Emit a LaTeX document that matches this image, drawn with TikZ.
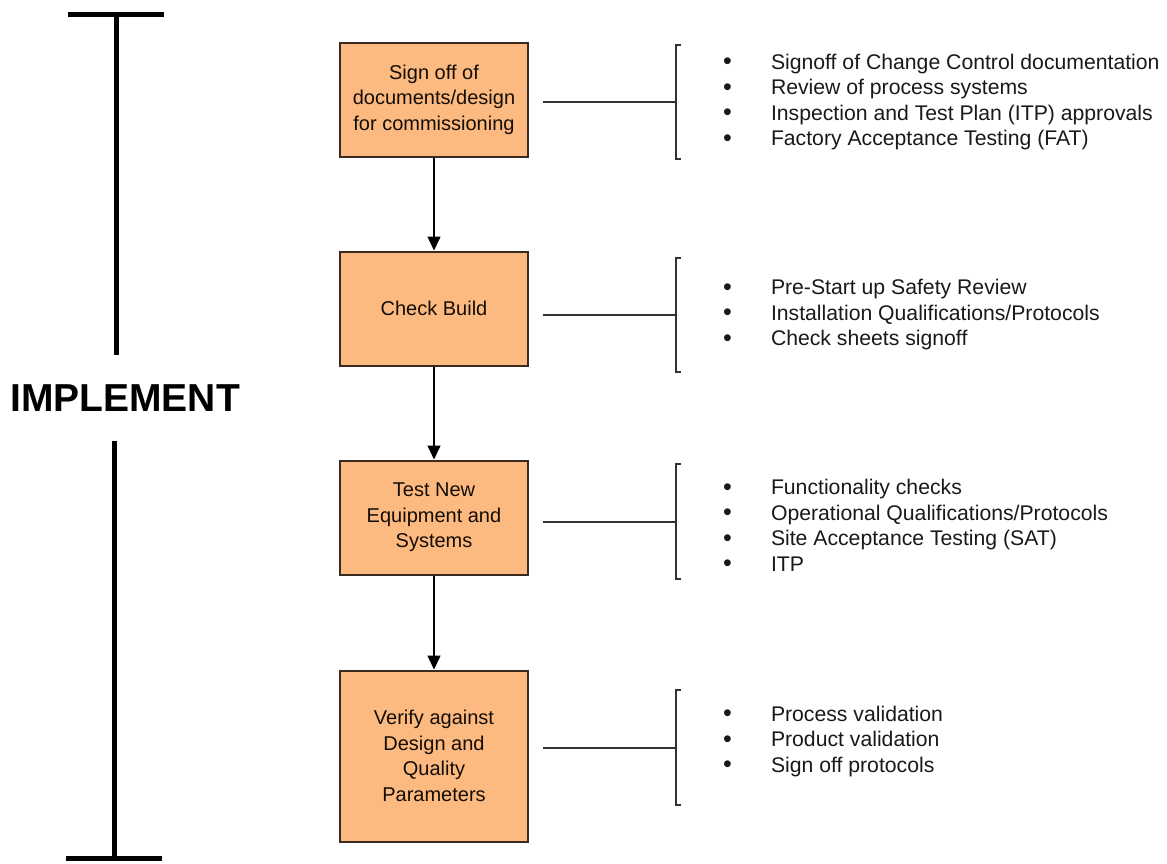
\documentclass[tikz,border=0pt]{standalone}
\usepackage{fontspec}
\setmainfont{Liberation Sans}
\usepackage{tikz}
\usetikzlibrary{positioning,arrows.meta}
\definecolor{BOX_COLOR}{HTML}{FDBA80}
\definecolor{EDGE_COLOR}{HTML}{3A2A20}
\tikzstyle{step_box}=[rectangle, draw=EDGE_COLOR, line width=2pt, fill=BOX_COLOR, minimum width=188pt, minimum height=114pt, align=center, text=black!90!brown, font=\fontsize{20}{25.5}\selectfont]
\tikzstyle{tall_box}=[step_box, minimum height=171pt]
\tikzstyle{brace}=[rectangle, minimum width=5pt, minimum height=114pt, inner sep=0pt]
\tikzstyle{item_list}=[align=left, inner sep=0pt, anchor=west, text=black!90, font=\fontsize{21.2}{25.5}\selectfont]
\tikzstyle{flow}=[line width=1.5pt, -{Triangle[width=13pt,length=14pt]}]
\tikzstyle{link}=[line width=2pt, draw=black!80]
\tikzstyle{bar}=[line width=5pt]
\newcommand{\itm}[1]{\makebox[48pt][l]{\raisebox{-0.5pt}{\fontsize{25}{25.5}\selectfont\textbullet}}#1}

\begin{document}
\begin{tikzpicture}[x=1pt, y=-1pt, node distance = 93pt and 0pt]
      \useasboundingbox (0,0) rectangle (1167,863);

      %%%%%%%%%%%%%%%%%%%%%%%%%%%%%%%%%%%%%%%%%%%%%%%%%
      % STEPS
      %%%%%%%%%%%%%%%%%%%%%%%%%%%%%%%%%%%%%%%%%%%%%%%%%
      \node[step_box] (S1) at (434,99.5) {Sign off of\\documents/design\\for commissioning};
      \node[step_box, below= of S1] (S2) {Check Build};
      \node[step_box, below= of S2] (S3) {Test New\\Equipment and\\Systems};
      \node[tall_box, below= 94pt of S3] (S4) {Verify against\\Design and\\Quality\\Parameters};

      \draw[flow] (S1) -- (S2);
      \draw[flow] (S2) -- (S3);
      \draw[flow] (S3) -- (S4);

      %%%%%%%%%%%%%%%%%%%%%%%%%%%%%%%%%%%%%%%%%%%%%%%%%
      % BRACKETS AND LISTS
      %%%%%%%%%%%%%%%%%%%%%%%%%%%%%%%%%%%%%%%%%%%%%%%%%
      \node[brace] (K1) at (678.5,102) {};
      \node[brace] (K2) at (678.5,315) {};
      \node[brace] (K3) at (678.5,521.5) {};
      \node[brace] (K4) at (678.5,747.5) {};

      \foreach \k in {K1,K2,K3,K4}
        \draw[link] (\k.north east) -- (\k.north west) -- (\k.south west) -- (\k.south east);

      \draw[link, shorten <=14pt] (S1.east |- K1.west) -- (K1.west);
      \draw[link, shorten <=14pt] (S2.east |- K2.west) -- (K2.west);
      \draw[link, shorten <=14pt] (S3.east |- K3.west) -- (K3.west);
      \draw[link, shorten <=14pt] (S4.east |- K4.west) -- (K4.west);

      % list1
      \node[item_list, right= 47pt of K1.west] (L1) {\itm{Signoff of Change Control documentation}\\\itm{Review of process systems}\\\itm{Inspection and Test Plan (ITP) approvals}\\\itm{Factory Acceptance Testing (FAT)}};
      % list2
      \node[item_list, right= 47pt of K2.west] (L2) {\itm{Pre-Start up Safety Review}\\\itm{Installation Qualifications/Protocols}\\\itm{Check sheets signoff}};
      % list3
      \node[item_list, right= 47pt of K3.west, yshift=-4pt] (L3) {\itm{Functionality checks}\\\itm{Operational Qualifications/Protocols}\\\itm{Site Acceptance Testing (SAT)}\\\itm{ITP}};
      % list4
      \node[item_list, right= 47pt of K4.west, yshift=6pt] (L4) {\itm{Process validation}\\\itm{Product validation}\\\itm{Sign off protocols}};

      %%%%%%%%%%%%%%%%%%%%%%%%%%%%%%%%%%%%%%%%%%%%%%%%%
      % PHASE BAR
      %%%%%%%%%%%%%%%%%%%%%%%%%%%%%%%%%%%%%%%%%%%%%%%%%
      \node[font=\bfseries\fontsize{39}{39}\selectfont, minimum height=85pt, inner sep=0pt] (IMP) at (125,398) {IMPLEMENT};
      \coordinate (top) at (116,14);
      \coordinate (bot) at (114,858);
      \draw[bar] (top) -- (top |- IMP.north);
      \draw[bar] (bot) -- (bot |- IMP.south);
      \draw[bar] ([xshift=-48pt]top) -- ([xshift=48pt]top);
      \draw[bar] ([xshift=-48pt]bot) -- ([xshift=48pt]bot);
\end{tikzpicture}
\end{document}
